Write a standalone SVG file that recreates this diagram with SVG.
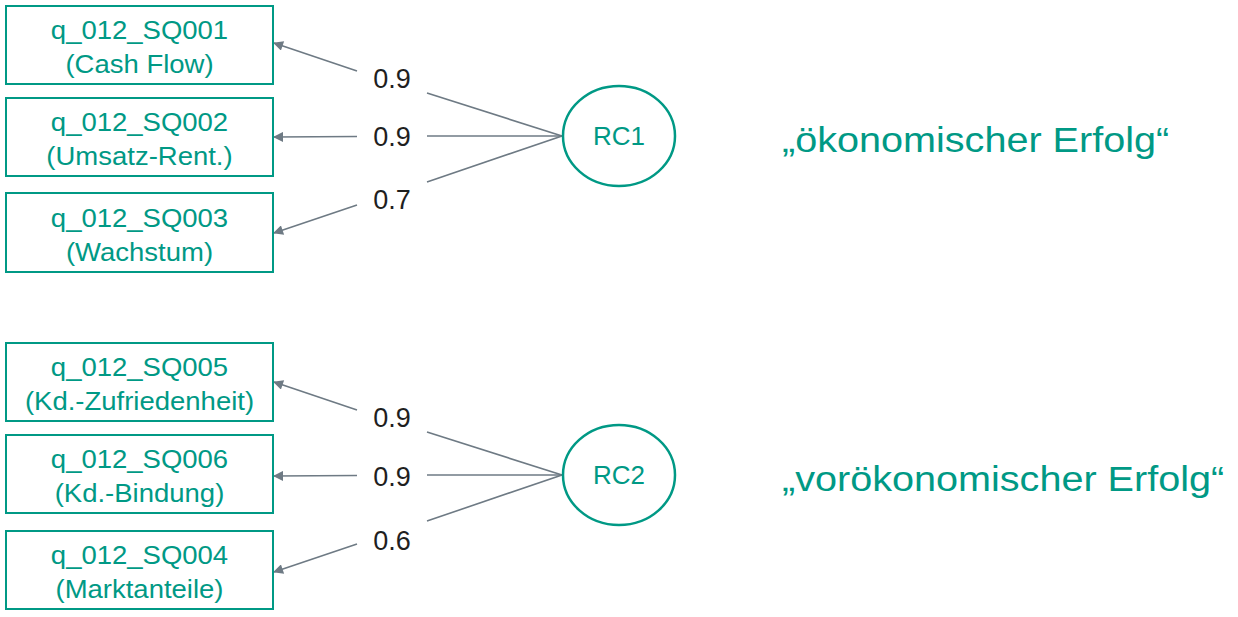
<svg xmlns="http://www.w3.org/2000/svg" width="1238" height="617" viewBox="0 0 1238 617">
<style>
.box{fill:#fff;stroke:#009985;stroke-width:2}
.ell{fill:#fff;stroke:#009985;stroke-width:2.5}
.nt{font-family:"Liberation Sans",Arial,sans-serif;font-size:25px;fill:#009985;text-anchor:middle}
.rc{font-family:"Liberation Sans",Arial,sans-serif;font-size:26px;fill:#009985;text-anchor:middle}
.lt{font-family:"Liberation Sans",Arial,sans-serif;font-size:27px;fill:#1f1f1f;text-anchor:middle}
.big{font-family:"Liberation Sans",Arial,sans-serif;font-size:36px;fill:#009985}
.ln{stroke:#6e7a84;stroke-width:1.6;fill:none}
</style>
<defs>
<marker id="ah" viewBox="0 0 10 10" refX="9" refY="5" markerWidth="11" markerHeight="10" markerUnits="userSpaceOnUse" orient="auto">
<path d="M0,0 L10,5 L0,10 z" fill="#6e7a84"/>
</marker>
</defs>
<rect width="1238" height="617" fill="#fff"/>
<g id="connectors">
<line class="ln" x1="562" y1="136" x2="427" y2="93"/>
<line class="ln" x1="357" y1="71" x2="274" y2="43" marker-end="url(#ah)"/>
<line class="ln" x1="562" y1="136" x2="427" y2="136"/>
<line class="ln" x1="357" y1="136.5" x2="274" y2="137" marker-end="url(#ah)"/>
<line class="ln" x1="562" y1="136" x2="427" y2="182"/>
<line class="ln" x1="357" y1="205" x2="274" y2="233" marker-end="url(#ah)"/>
<line class="ln" x1="562" y1="475" x2="427" y2="432"/>
<line class="ln" x1="357" y1="410" x2="274" y2="382" marker-end="url(#ah)"/>
<line class="ln" x1="562" y1="475" x2="427" y2="475"/>
<line class="ln" x1="357" y1="475.5" x2="274" y2="476" marker-end="url(#ah)"/>
<line class="ln" x1="562" y1="475" x2="427" y2="521"/>
<line class="ln" x1="357" y1="544" x2="274" y2="572" marker-end="url(#ah)"/>
<text class="lt" x="392" y="88">0.9</text>
<text class="lt" x="392" y="146">0.9</text>
<text class="lt" x="392" y="209">0.7</text>
<text class="lt" x="392" y="427">0.9</text>
<text class="lt" x="392" y="486">0.9</text>
<text class="lt" x="392" y="550">0.6</text>
</g>
<g id="n1"><rect class="box" x="6" y="6" width="267" height="78"/><text class="nt" transform="translate(139.5,39) scale(1.1,1)">q_012_SQ001</text><text class="nt" transform="translate(139.5,73) scale(1.1,1)">(Cash Flow)</text></g>
<g id="n2"><rect class="box" x="6" y="98" width="267" height="78"/><text class="nt" transform="translate(139.5,131) scale(1.1,1)">q_012_SQ002</text><text class="nt" transform="translate(139.5,165) scale(1.1,1)">(Umsatz-Rent.)</text></g>
<g id="n3"><rect class="box" x="6" y="193" width="267" height="79"/><text class="nt" transform="translate(139.5,227) scale(1.1,1)">q_012_SQ003</text><text class="nt" transform="translate(139.5,261) scale(1.1,1)">(Wachstum)</text></g>
<g id="n5"><rect class="box" x="6" y="343" width="267" height="78"/><text class="nt" transform="translate(139.5,376) scale(1.1,1)">q_012_SQ005</text><text class="nt" transform="translate(139.5,410) scale(1.1,1)">(Kd.-Zufriedenheit)</text></g>
<g id="n6"><rect class="box" x="6" y="435" width="267" height="78"/><text class="nt" transform="translate(139.5,468) scale(1.1,1)">q_012_SQ006</text><text class="nt" transform="translate(139.5,502) scale(1.1,1)">(Kd.-Bindung)</text></g>
<g id="n4"><rect class="box" x="6" y="531" width="267" height="78"/><text class="nt" transform="translate(139.5,564) scale(1.1,1)">q_012_SQ004</text><text class="nt" transform="translate(139.5,598) scale(1.1,1)">(Marktanteile)</text></g>
<g id="rc1"><ellipse class="ell" cx="619" cy="136" rx="56" ry="50"/><text class="rc" x="619" y="145">RC1</text></g>
<g id="rc2"><ellipse class="ell" cx="619" cy="475" rx="56" ry="50"/><text class="rc" x="619" y="484">RC2</text></g>
<g id="label1"><text class="big" transform="translate(782,152) scale(1.1,1)">„ökonomischer Erfolg“</text></g>
<g id="label2"><text class="big" transform="translate(782,491) scale(1.1,1)">„vorökonomischer Erfolg“</text></g>
</svg>
